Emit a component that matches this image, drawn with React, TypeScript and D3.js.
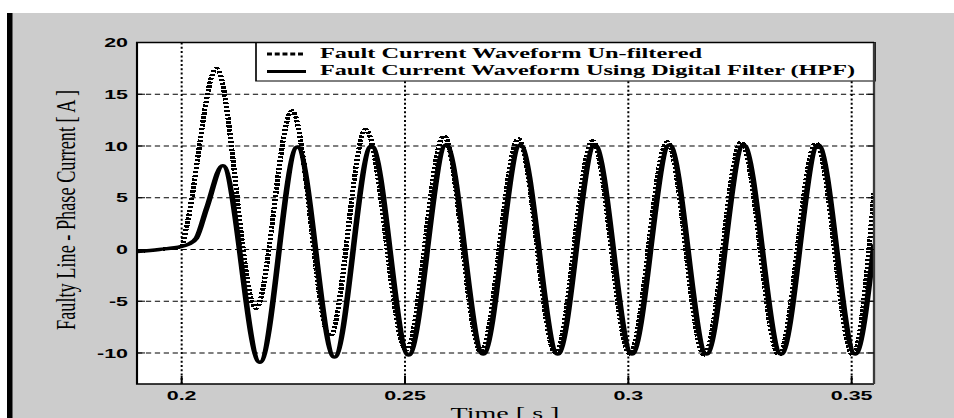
import React, { useEffect, useRef } from 'react';
import * as d3 from 'd3';

// axis ticks
const xTicks = [0.2, 0.25, 0.3, 0.35];
const yTicks = [-10, -5, 0, 5, 10, 15, 20];

const seriesNames = [
  'Fault Current Waveform Un-filtered',
  'Fault Current Waveform Using Digital Filter (HPF)',
];

// un-filtered current (peaks / troughs)
const rawTime = [
  0.19, 0.195, 0.2, 0.2009, 0.2078, 0.2166, 0.2247, 0.2332, 0.2412, 0.2503, 0.2587, 0.267,
  0.2754, 0.2837, 0.292, 0.3003, 0.3087, 0.317, 0.3253, 0.3337, 0.342, 0.3503, 0.355,
];
const rawCurrent = [
  -0.2, 0.0, 0.3, 1.8, 17.5, -5.7, 13.4, -8.4, 11.6, -9.7, 11.0, -9.9,
  10.7, -10.0, 10.5, -10.1, 10.4, -10.2, 10.4, -10.2, 10.3, -10.2, 5.5,
];

// filtered (HPF) current
const hpfTime = [
  0.19, 0.195, 0.2, 0.2015, 0.2033, 0.2056, 0.2092, 0.2175, 0.2259, 0.2342, 0.2425, 0.2508,
  0.2592, 0.2675, 0.2758, 0.2842, 0.2925, 0.3008, 0.3092, 0.3175, 0.3258, 0.3342, 0.3425,
  0.3508, 0.355,
];
const hpfCurrent = [
  -0.2, 0.0, 0.3, 0.5, 1.1, 4.0, 8.1, -10.9, 9.9, -10.4, 10.0, -10.2,
  10.1, -10.1, 10.1, -10.1, 10.1, -10.1, 10.1, -10.1, 10.1, -10.1, 10.1,
  -10.1, 0.5,
];

const App = () => {
  const svgRef = useRef<SVGSVGElement>(null);

  useEffect(() => {
    if (!svgRef.current) return;
    const svg = d3.select(svgRef.current);
    svg.selectAll('*').remove();

    const W = 954;
    const H = 418;
    const SX = 1.65; // the whole figure is stretched horizontally
    const left = 137, right = 874, top = 42.5, bottom = 384;

    svg.append('rect').attr('width', W).attr('height', H).attr('fill', '#fff');
    svg.append('rect').attr('x', 12).attr('y', 13).attr('width', W - 12).attr('height', H - 13).attr('fill', '#cccccc');
    svg.append('rect').attr('x', 7).attr('y', 13).attr('width', 5.5).attr('height', H - 13).attr('fill', '#000');

    const g = svg.append('g').attr('transform', `scale(${SX},1)`);

    const x = d3.scaleLinear().domain([0.19, 0.355]).range([left / SX, right / SX]);
    const y = d3.scaleLinear().domain([-13, 20]).range([bottom, top]);
    const [x0, x1] = x.range();

    svg.append('defs').append('clipPath').attr('id', 'plotClip')
      .append('rect').attr('x', x0).attr('y', top).attr('width', x1 - x0).attr('height', bottom - top);

    g.append('rect')
      .attr('x', x0).attr('y', top).attr('width', x1 - x0).attr('height', bottom - top)
      .attr('fill', '#fff');

    // grid
    g.selectAll('.hgrid')
      .data(yTicks.filter(d => d < 20))
      .enter().append('line')
      .attr('x1', x0).attr('x2', x1)
      .attr('y1', d => y(d)).attr('y2', d => y(d))
      .attr('stroke', '#000').attr('stroke-width', 1)
      .attr('stroke-dasharray', '3.2 2.2');

    g.selectAll('.vgrid')
      .data(xTicks)
      .enter().append('line')
      .attr('x1', d => x(d)).attr('x2', d => x(d))
      .attr('y1', top).attr('y2', bottom)
      .attr('stroke', '#000').attr('stroke-width', 1.2)
      .attr('stroke-dasharray', '2 2.3');

    // waveforms
    const line = d3.line<[number, number]>()
      .x(d => x(d[0]))
      .y(d => y(d[1]))
      .curve(d3.curveMonotoneX);

    const curves = g.append('g').attr('clip-path', 'url(#plotClip)');

    curves.append('path')
      .datum(d3.zip(rawTime, rawCurrent) as [number, number][])
      .attr('d', line)
      .attr('fill', 'none')
      .attr('stroke', '#000')
      .attr('stroke-width', 3.2)
      .attr('stroke-dasharray', '2.4 1.5')
      .attr('shape-rendering', 'crispEdges');

    curves.append('path')
      .datum(d3.zip(hpfTime, hpfCurrent) as [number, number][])
      .attr('d', line)
      .attr('fill', 'none')
      .attr('stroke', '#000')
      .attr('stroke-width', 3.4);

    // legend
    const lg = g.append('g');
    lg.append('rect')
      .attr('x', 256 / SX).attr('y', top)
      .attr('width', (875 - 256) / SX).attr('height', 81 - top)
      .attr('fill', '#fff').attr('stroke', '#000').attr('stroke-width', 1);
    lg.append('line')
      .attr('x1', 267 / SX).attr('x2', 304 / SX).attr('y1', 54).attr('y2', 54)
      .attr('stroke', '#000').attr('stroke-width', 3.2).attr('stroke-dasharray', '3 1.7');
    lg.append('line')
      .attr('x1', 267 / SX).attr('x2', 306 / SX).attr('y1', 71.5).attr('y2', 71.5)
      .attr('stroke', '#000').attr('stroke-width', 3.2);
    const legendLen = [382, 535];
    const legendBase = [58.5, 75.5];
    seriesNames.forEach((name, i) => {
      lg.append('text')
        .attr('x', 320 / SX).attr('y', legendBase[i])
        .attr('font-family', '"Liberation Serif", "Times New Roman", serif')
        .attr('font-weight', 'bold')
        .attr('font-size', 15.5)
        .attr('textLength', legendLen[i] / SX)
        .attr('lengthAdjust', 'spacingAndGlyphs')
        .attr('fill', '#000')
        .text(name);
    });

    // axes box
    g.append('path')
      .attr('d', `M${x1},${top}H${x0}V${bottom}H${x1}`)
      .attr('fill', 'none').attr('stroke', '#000').attr('stroke-width', 1.3);
    g.append('line')
      .attr('x1', x1).attr('x2', x1).attr('y1', top).attr('y2', bottom)
      .attr('stroke', '#3a3a3a').attr('stroke-width', 1.4);

    // inward ticks
    xTicks.forEach(t => {
      g.append('line').attr('x1', x(t)).attr('x2', x(t)).attr('y1', bottom).attr('y2', bottom - 8)
        .attr('stroke', '#000').attr('stroke-width', 1.2);
    });
    yTicks.forEach(t => {
      g.append('line').attr('x1', x0).attr('x2', x0 + 8 / SX).attr('y1', y(t)).attr('y2', y(t))
        .attr('stroke', '#000').attr('stroke-width', 1);
      g.append('line').attr('x1', x1 - 8 / SX).attr('x2', x1).attr('y1', y(t)).attr('y2', y(t))
        .attr('stroke', '#000').attr('stroke-width', 1);
    });

    // tick labels
    const tickFont = '"Liberation Sans", Arial, Helvetica, sans-serif';
    g.selectAll('.xlab')
      .data(xTicks)
      .enter().append('text')
      .attr('x', d => x(d)).attr('y', 400)
      .attr('text-anchor', 'middle')
      .attr('font-family', tickFont).attr('font-weight', 'bold').attr('font-size', 13)
      .attr('fill', '#000')
      .text(d => String(d));

    g.selectAll('.ylab')
      .data(yTicks)
      .enter().append('text')
      .attr('x', 128 / SX).attr('y', d => y(d) + 4.6)
      .attr('text-anchor', 'end')
      .attr('font-family', tickFont).attr('font-weight', 'bold').attr('font-size', 13)
      .attr('fill', '#000')
      .text(d => String(d));

    // axis titles
    g.append('text')
      .attr('transform', `translate(${75 / SX},210) rotate(-90)`)
      .attr('text-anchor', 'middle')
      .attr('font-family', '"Liberation Serif", "Times New Roman", serif')
      .attr('font-size', 17)
      .attr('textLength', 240)
      .attr('lengthAdjust', 'spacingAndGlyphs')
      .attr('fill', '#000')
      .text('Faulty Line - Phase Current [ A ]');

    // the reference crops this label at the bottom edge
    g.append('text')
      .attr('x', 505 / SX).attr('y', 419)
      .attr('text-anchor', 'middle')
      .attr('font-family', '"Liberation Serif", "Times New Roman", serif')
      .attr('font-size', 17)
      .attr('fill', '#000')
      .text('Time [ s ]');
  }, []);

  return (
    <svg
      ref={svgRef}
      width={954}
      height={418}
      style={{ position: 'absolute', left: 0, top: 0, display: 'block' }}
    />
  );
};

export default App;
